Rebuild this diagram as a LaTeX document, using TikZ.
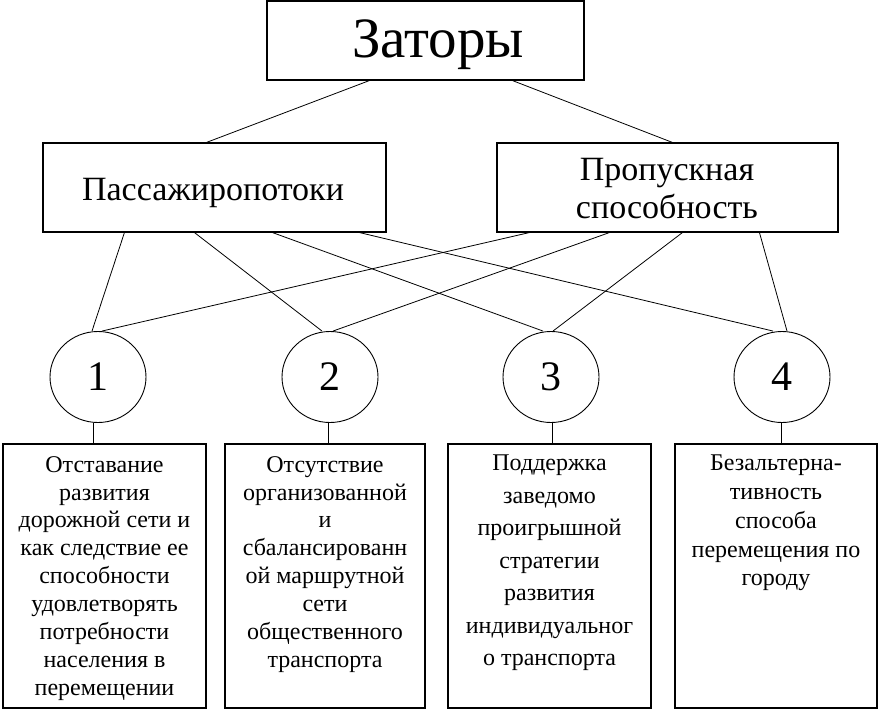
\documentclass[tikz,border=0pt]{standalone}
\usepackage{fontspec}
\setmainfont{Liberation Serif}
\usetikzlibrary{shapes.geometric}
\begin{document}
\begin{tikzpicture}[x=1pt,y=-1pt,
  box/.style={draw, line width=1.1pt, inner sep=0pt},
  num/.style={draw, ellipse, line width=0.9pt, minimum width=96pt, minimum height=91pt, inner sep=0pt, font=\fontsize{42}{42}\selectfont},
  link/.style={line width=0.8pt},
  bigtxt/.style={anchor=base, inner sep=0pt},
  celltxt/.style={anchor=north, align=center, inner sep=0pt}]
\useasboundingbox[fill=white] (0,0) rectangle (880,712);
% top
\node[box, minimum width=317pt, minimum height=79pt] (top) at (425.5,40.5) {};
\node[bigtxt, font=\fontsize{57}{57}\selectfont] (toptxt) at (438,57) {Заторы};
% second level
\node[box, minimum width=343pt, minimum height=89pt] (pas) at (214.5,187.5) {};
\node[bigtxt, font=\fontsize{34}{34}\selectfont] (pastxt) at (213,200) {Пассажиропотоки};
\node[box, minimum width=341pt, minimum height=89pt] (prop) at (667.5,187.5) {};
\node[bigtxt, font=\fontsize{34}{34}\selectfont] (proptxt1) at (667,180) {Пропускная};
\node[bigtxt, font=\fontsize{34}{34}\selectfont] (proptxt2) at (667,218) {способность};
% circles
\node[num] (c1) at (98,377) {1};
\node[num] (c2) at (330,377) {2};
\node[num] (c3) at (551,377) {3};
\node[num] (c4) at (782,377) {4};
% bottom boxes
\node[box, minimum width=203pt, minimum height=264pt] (b1) at (104.5,576) {};
\node[box, minimum width=200pt, minimum height=264pt] (b2) at (325,576) {};
\node[box, minimum width=203pt, minimum height=264pt] (b3) at (549.5,576) {};
\node[box, minimum width=202pt, minimum height=264pt] (b4) at (776,576) {};
\node[celltxt, font=\fontsize{24}{27.9}\selectfont] (t1) at (104.5,456) {Отставание\\развития\\дорожной сети и\\как следствие ее\\способности\\удовлетворять\\потребности\\населения в\\перемещении};
\node[celltxt, font=\fontsize{24}{27.9}\selectfont] (t2) at (325,456) {Отсутствие\\организованной\\и\\сбалансированн\\ой маршрутной\\сети\\общественного\\транспорта};
\node[celltxt, font=\fontsize{24}{32.5}\selectfont] (t3) at (549.5,455) {Поддержка\\заведомо\\проигрышной\\стратегии\\развития\\индивидуальног\\о транспорта};
\node[celltxt, font=\fontsize{24}{28.75}\selectfont] (t4) at (776,455) {Безальтерна-\\тивность\\способа\\перемещения по\\городу};
% connectors top
\draw[link] ([xshift=103pt]top.south west) -- ([xshift=164pt]pas.north west);
\draw[link] ([xshift=246pt]top.south west) -- ([xshift=176pt]prop.north west);
% from pas
\draw[link] ([xshift=82pt]pas.south west) -- ([xshift=-6pt]c1.north);
\draw[link] ([xshift=152pt]pas.south west) -- ([xshift=-8pt]c2.north);
\draw[link] ([xshift=230pt]pas.south west) -- ([xshift=-8pt]c3.north);
\draw[link] ([xshift=317pt]pas.south west) -- ([xshift=-9pt]c4.north);
% from prop
\draw[link] ([xshift=33pt]prop.south west) -- ([xshift=4pt]c1.north);
\draw[link] ([xshift=113pt]prop.south west) -- ([xshift=3pt]c2.north);
\draw[link] ([xshift=186pt]prop.south west) -- ([xshift=2pt]c3.north);
\draw[link] ([xshift=263pt]prop.south west) -- ([xshift=5pt]c4.north);
% circles to boxes
\draw[link] ([xshift=-5pt]c1.south) -- ([xshift=-5pt]c1.south |- b1.north);
\draw[link] ([xshift=-2pt]c2.south) -- ([xshift=-2pt]c2.south |- b2.north);
\draw[link] ([xshift=1pt]c3.south) -- ([xshift=1pt]c3.south |- b3.north);
\draw[link] ([xshift=-1pt]c4.south) -- ([xshift=-1pt]c4.south |- b4.north);
\end{tikzpicture}
\end{document}
